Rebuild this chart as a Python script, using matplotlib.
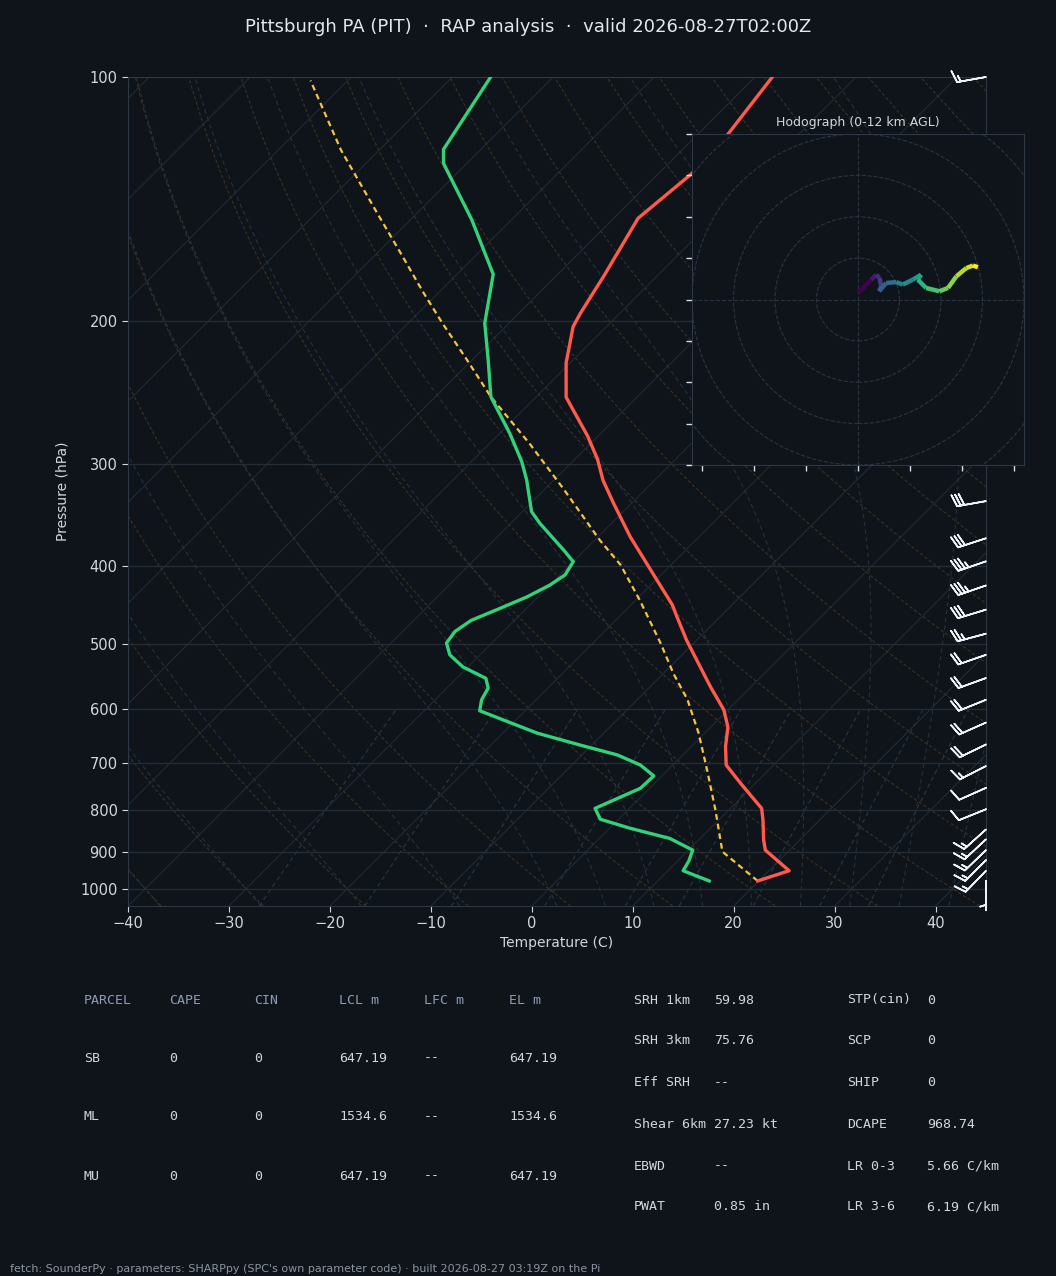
import numpy as np
import matplotlib
matplotlib.use("Agg")
import matplotlib.pyplot as plt
import matplotlib.transforms as mtransforms
from matplotlib.collections import LineCollection
from matplotlib.ticker import NullLocator, FixedLocator, NullFormatter

BG = '#0f141b'
GRID = '#252d37'
SPINE = '#2e3845'
TXT = '#d0d7de'
HEAD = '#8d9db1'

title = "Pittsburgh PA (PIT)  \u00b7  RAP analysis  \u00b7  valid 2026-08-27T02:00Z"
footer = ("fetch: SounderPy \u00b7 parameters: SHARPpy (SPC's own parameter code) "
          "\u00b7 built 2026-08-27 03:19Z on the Pi")

# temperature profile (hPa, C)
temp_p = [978, 950, 896, 870, 823, 796, 741, 704, 668, 632, 602, 564, 494, 462,
          447, 416.5, 368.6, 335, 314, 296, 277, 248, 225, 203, 195.5, 175.5,
          149.3, 131.4, 118, 100]
temp_c = [19.9, 22.0, 17.6, 16.4, 14.4, 13.1, 8.5, 5.3, 3.4, 1.7, -0.4, -4.0,
          -11.0, -14.3, -15.9, -19.9, -26.8, -31.8, -35.1, -37.7, -41.0, -47.0,
          -50.4, -53.3, -53.9, -55.3, -57.6, -56.7, -57.0, -58.3]

# dewpoint profile (hPa, C)
dewp_p = [978, 950, 924, 896, 867, 842, 821, 796, 752, 726, 704, 684, 665, 643,
          603.5, 585, 566, 550.5, 533, 515, 498, 482, 467, 453, 437, 422.5,
          410.6, 395.4, 382.6, 354.7, 343, 313.7, 297.8, 274.8, 247.7, 223.2,
          201, 175, 150, 127.8, 122.8, 100]
dewp_c = [15.1, 11.5, 11.1, 10.4, 7.0, 2.0, -1.8, -3.4, -0.9, -0.8, -3.2, -6.5,
          -11.2, -16.6, -24.5, -25.4, -25.9, -27.1, -30.5, -33.0, -34.5, -34.8,
          -34.3, -32.8, -31.1, -30.0, -29.5, -30.0, -32.1, -37.1, -39.1, -42.7,
          -45.0, -49.0, -54.5, -58.4, -62.4, -66.4, -73.9, -82.3, -83.7, -86.2]

# surface parcel trace (hPa, C)
parcel_p = [978, 900, 800, 714, 643, 585, 543, 498, 441, 399, 372, 321, 283,
            247.7, 222, 201, 184, 165, 147, 123, 101]
parcel_c = [19.9, 13.5, 8.7, 3.9, -0.6, -5.0, -9.0, -13.3, -19.6, -25.0, -29.5,
            -38.3, -46.0, -54.5, -60.8, -66.6, -71.6, -77.6, -84.0, -93.8, -103.7]

# wind barbs
barb_p = [100, 333, 370, 395, 423, 453, 485, 515, 550, 585, 624, 664, 706, 751,
          798, 845, 869, 896, 922, 950, 978]
barb_dir = [260, 260, 252, 251, 251, 253, 255, 251, 250, 248, 246, 244, 243,
            246, 248, 228, 227, 226, 225, 224, 180]
barb_kt = [15, 30, 30, 35, 35, 30, 25, 20, 20, 20, 20, 20, 15, 10, 10, 15, 15,
           15, 15, 15, 5]

# hodograph 0-12 km (kt)
hodo_u = [0.0, 3.2, 4.4, 5.2, 5.6, 5.1, 6.8, 9.2, 10.8, 13.2, 15.2, 14.4, 16.4,
          19.6, 21.7, 23.7, 26.1, 27.7, 28.9]
hodo_v = [1.6, 4.8, 6.0, 5.2, 3.2, 2.0, 4.0, 4.2, 3.6, 4.8, 6.0, 4.8, 2.8, 2.0,
          2.8, 5.6, 7.6, 8.2, 7.8]

# parcel table
parcel_head = ['PARCEL', 'CAPE', 'CIN', 'LCL m', 'LFC m', 'EL m']
parcel_rows = [['SB', '0', '0', '647.19', '--', '647.19'],
               ['ML', '0', '0', '1534.6', '--', '1534.6'],
               ['MU', '0', '0', '647.19', '--', '647.19']]

# index table
idx_names1 = ['SRH 1km', 'SRH 3km', 'Eff SRH', 'Shear 6km', 'EBWD', 'PWAT']
idx_vals1 = ['59.98', '75.76', '--', '27.23 kt', '--', '0.85 in']
idx_names2 = ['STP(cin)', 'SCP', 'SHIP', 'DCAPE', 'LR 0-3', 'LR 3-6']
idx_vals2 = ['0', '0', '0', '968.74', '5.66 C/km', '6.19 C/km']

mix_ratios = [0.0004, 0.001, 0.002, 0.004, 0.007, 0.01, 0.016, 0.024, 0.032]

W, H = 1056, 1276
fig = plt.figure(figsize=(W / 100, H / 100), dpi=100, facecolor=BG)

ax = fig.add_axes([128 / W, 1 - 906 / H, 858 / W, 829 / H], facecolor=BG)
ax.set_yscale('log')
ax.set_ylim(1050, 100)
ax.set_xlim(-40, 45)
ax.yaxis.set_major_locator(FixedLocator([100, 200, 300, 400, 500, 600, 700, 800, 900, 1000]))
ax.yaxis.set_minor_locator(NullLocator())
ax.yaxis.set_minor_formatter(NullFormatter())
ax.set_yticklabels(['100', '200', '300', '400', '500', '600', '700', '800', '900', '1000'])
ax.set_xticks(np.arange(-40, 41, 10))
ax.tick_params(colors=TXT, labelsize=10.5, length=4, width=0.8)
for s in ax.spines.values():
    s.set_color(SPINE)
ax.grid(axis='y', color=GRID, lw=0.9)

# skew so isotherms run at 45 degrees on screen
bb = ax.bbox
shear = np.arctan(bb.height / bb.width)
skew = ax.transScale + ax.transLimits + mtransforms.Affine2D().skew(shear, 0) + ax.transAxes

# isotherms
for t in range(-160, 50, 10):
    ax.plot([t, t], [1050, 100], transform=skew, color='#222a33', lw=0.8, zorder=1)

# dry adiabats
pp = np.linspace(1050, 100, 80)
for th in range(-40, 201, 10):
    tt = (th + 273.15) * (pp / 1000.0) ** 0.2857 - 273.15
    ax.plot(tt, pp, transform=skew, color='#3a3123', lw=0.8, dashes=(3, 2), zorder=1)

# moist adiabats
RD, CP, LV, EPS = 287.04, 1005.7, 2.501e6, 0.622


def dtdp(t, p):
    es = 6.112 * np.exp(17.67 * (t - 273.15) / (t - 29.65))
    rs = EPS * es / (p - es)
    return (RD * t + LV * rs) / (p * (CP + LV ** 2 * rs * EPS / (RD * t ** 2)))


def integrate(t0, plevs):
    t = np.asarray(t0, float) + 273.15
    out = [t.copy()]
    for p1, p2 in zip(plevs[:-1], plevs[1:]):
        h = p2 - p1
        k1 = dtdp(t, p1)
        k2 = dtdp(t + h / 2 * k1, p1 + h / 2)
        k3 = dtdp(t + h / 2 * k2, p1 + h / 2)
        k4 = dtdp(t + h * k3, p2)
        t = t + h / 6 * (k1 + 2 * k2 + 2 * k3 + k4)
        out.append(t.copy())
    return np.array(out) - 273.15


t0s = np.concatenate((np.arange(-40, 0, 10), np.arange(0, 46, 5)))
p_up = np.linspace(1000, 100, 91)
p_dn = np.linspace(1000, 1050, 6)
t_up = integrate(t0s, p_up)
t_dn = integrate(t0s, p_dn)
pm_all = np.concatenate((p_dn[::-1], p_up[1:]))
tm_all = np.concatenate((t_dn[::-1], t_up[1:]))
for i in range(len(t0s)):
    ax.plot(tm_all[:, i], pm_all, transform=skew, color='#24313d', lw=0.8,
            dashes=(4, 3), zorder=1)

# mixing ratio lines
pw = np.linspace(1050, 600, 20)
for w in mix_ratios:
    e = pw * w / (EPS + w)
    lg = np.log(e / 6.112)
    td = 243.5 * lg / (17.67 - lg)
    ax.plot(td, pw, transform=skew, color='#263746', lw=0.8, dashes=(4, 3), zorder=1)

# profiles
ax.plot(parcel_c, parcel_p, transform=skew, color='#f4c542', lw=1.6, dashes=(2.6, 1.8), zorder=4)
ax.plot(temp_c, temp_p, transform=skew, color='#ff5a4c', lw=2.4, zorder=5)
ax.plot(dewp_c, dewp_p, transform=skew, color='#33d17a', lw=2.4, zorder=5)

# barbs along right edge
bd = np.radians(barb_dir)
u = -np.array(barb_kt) * np.sin(bd)
v = -np.array(barb_kt) * np.cos(bd)
btrans = mtransforms.blended_transform_factory(ax.transAxes, ax.transData)
ax.barbs(np.ones(len(barb_p)), barb_p, u, v, transform=btrans, length=6.5,
         color='#eef2f6', lw=1.2, clip_on=False, zorder=6)

fig.text(557 / W, 1 - 943 / H, 'Temperature (C)', color=TXT, fontsize=10,
         ha='center', va='center')
fig.text(63 / W, 1 - 491 / H, 'Pressure (hPa)', color=TXT, fontsize=10,
         ha='center', va='center', rotation=90)
fig.text(0.5, 1 - 27 / H, title, color='#e3e8ee', fontsize=13, ha='center', va='center')

# hodograph inset
hx = fig.add_axes([692 / W, 1 - 465 / H, 332 / W, 331 / H], facecolor=BG)
hx.set_xlim(-40, 40)
hx.set_ylim(-40, 40)
for r in range(10, 70, 10):
    hx.add_patch(plt.Circle((0, 0), r, fill=False, color='#2a3441', lw=0.8, ls='--'))
hx.axhline(0, color='#2a3441', lw=0.8, ls='--')
hx.axvline(0, color='#2a3441', lw=0.8, ls='--')
pts = np.column_stack([hodo_u, hodo_v])
segs = np.stack([pts[:-1], pts[1:]], axis=1)
lc = LineCollection(segs, cmap='viridis', linewidths=3.2)
lc.set_array(np.linspace(0, 1, len(segs)))
hx.add_collection(lc)
hx.set_yticks(np.arange(-40, 41, 10))
hx.set_xticks(np.arange(-37.5, 38, 12.5))
hx.tick_params(colors='#d8dee5', labelleft=False, labelbottom=False, length=4, width=1)
for s in hx.spines.values():
    s.set_color(SPINE)
hx.set_title('Hodograph (0-12 km AGL)', color=TXT, fontsize=9)

# parcel table
mono = 'DejaVu Sans Mono'
col_x = [84, 169, 254, 339, 424, 509]
for cx, h in zip(col_x, parcel_head):
    fig.text(cx / W, 1 - 1000 / H, h, family=mono, fontsize=9.5, color=HEAD, va='center')
for ry, row in zip([1058, 1117, 1176], parcel_rows):
    for cx, val in zip(col_x, row):
        fig.text(cx / W, 1 - ry / H, val, family=mono, fontsize=9.5, color=TXT, va='center')

# index table
row_y = [1000, 1041, 1083, 1124, 1166, 1207]
for ry, a, b, c, d in zip(row_y, idx_names1, idx_vals1, idx_names2, idx_vals2):
    fig.text(634 / W, 1 - ry / H, a, family=mono, fontsize=9.5, color=TXT, va='center')
    fig.text(714 / W, 1 - ry / H, b, family=mono, fontsize=9.5, color=TXT, va='center')
    fig.text(847 / W, 1 - ry / H, c, family=mono, fontsize=9.5, color=TXT, va='center')
    fig.text(927 / W, 1 - ry / H, d, family=mono, fontsize=9.5, color=TXT, va='center')

fig.text(10 / W, 1 - 1269 / H, footer, color='#8a94a1', fontsize=8, va='center')

fig.savefig('out.png', dpi=100, facecolor=BG)
